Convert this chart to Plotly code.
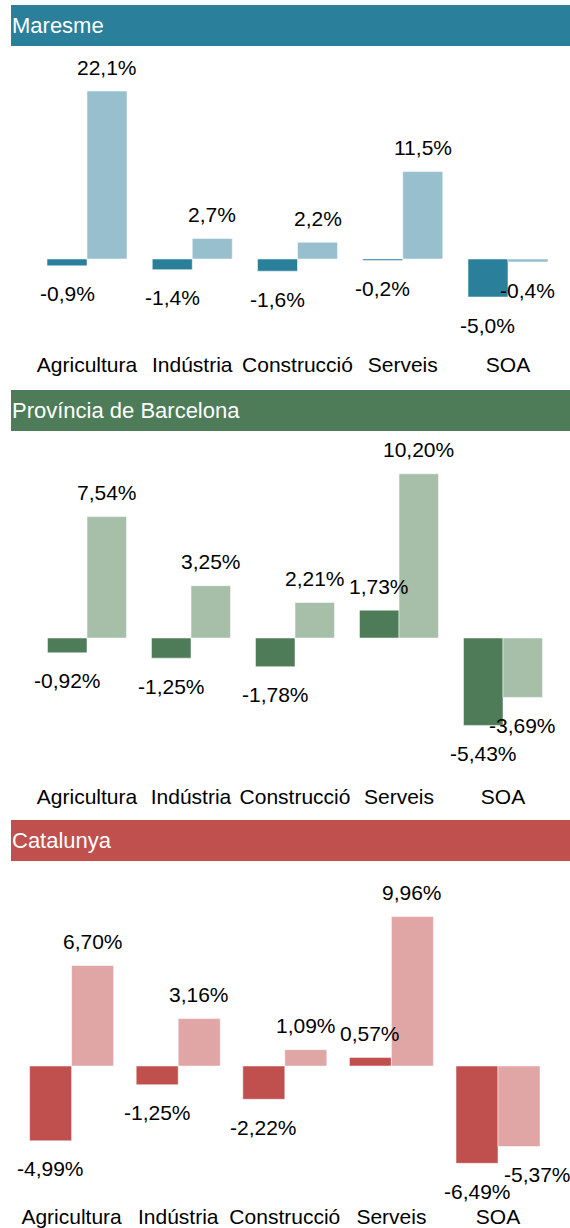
import plotly.graph_objects as go

categories = ["Agricultura", "Indústria", "Construcció", "Serveis", "SOA"]

panel_titles = ["Maresme", "Província de Barcelona", "Catalunya"]

maresme_a = [-0.9, -1.4, -1.6, -0.2, -5.0]
maresme_b = [22.1, 2.7, 2.2, 11.5, -0.4]

barcelona_a = [-0.92, -1.25, -1.78, 1.73, -5.43]
barcelona_b = [7.54, 3.25, 2.21, 10.20, -3.69]

catalunya_a = [-4.99, -1.25, -2.22, 0.57, -6.49]
catalunya_b = [6.70, 3.16, 1.09, 9.96, -5.37]

decimals = [1, 2, 2]

W, H = 570, 1228
FONT = "Liberation Sans Narrow, Arial Narrow, Liberation Sans, Arial, sans-serif"

panels = [
    dict(a=maresme_a, b=maresme_b, dark="#2A7F9A", light="#97BFCE",
         bar=(5, 46), zero=259, ppu=7.6, top=60, bottom=350,
         xl=34.4, xr=560.6, w=0.38),
    dict(a=barcelona_a, b=barcelona_b, dark="#4E7C58", light="#A7BFA9",
         bar=(390, 431), zero=638, ppu=16.1, top=440, bottom=782,
         xl=35.0, xr=555.0, w=0.38),
    dict(a=catalunya_a, b=catalunya_b, dark="#C0504E", light="#E0A5A5",
         bar=(820, 861), zero=1066, ppu=15.0, top=870, bottom=1202,
         xl=18.3, xr=551.3, w=0.394),
]


def fmt(v, d):
    return f"{v:.{d}f}".replace(".", ",") + "%"


fig = go.Figure()
shapes = []
annotations = []

for i, p in enumerate(panels):
    xa = "x" if i == 0 else f"x{i+1}"
    ya = "y" if i == 0 else f"y{i+1}"
    w = p["w"]
    fig.add_trace(go.Bar(
        x=categories, y=p["a"], xaxis=xa, yaxis=ya,
        marker=dict(color=p["dark"], line=dict(color="rgba(255,255,255,0.5)", width=1)),
        width=w, offset=-w, showlegend=False, hoverinfo="skip"))
    fig.add_trace(go.Bar(
        x=categories, y=p["b"], xaxis=xa, yaxis=ya,
        marker=dict(color=p["light"], line=dict(color="rgba(255,255,255,0.5)", width=1)),
        width=w, offset=0, showlegend=False, hoverinfo="skip"))

    rtop = (p["zero"] - p["top"]) / p["ppu"]
    rbot = -(p["bottom"] - p["zero"]) / p["ppu"]
    xdom = [p["xl"] / W, p["xr"] / W]
    ydom = [1 - p["bottom"] / H, 1 - p["top"] / H]
    sfx = "" if i == 0 else str(i + 1)
    fig.update_layout(**{
        f"xaxis{sfx}": dict(domain=xdom, range=[-0.5, 4.5], anchor=ya,
                            showgrid=False, zeroline=False, showline=False,
                            ticks="", tickfont=dict(family=FONT, size=21, color="#000000"),
                            fixedrange=True),
        f"yaxis{sfx}": dict(domain=ydom, range=[rbot, rtop], anchor=xa,
                            showgrid=False, zeroline=False, showline=False,
                            showticklabels=False, fixedrange=True),
    })

    # title bar
    shapes.append(dict(type="rect", xref="paper", yref="paper",
                       x0=11 / W, x1=1, y0=1 - p["bar"][1] / H, y1=1 - p["bar"][0] / H,
                       fillcolor=p["dark"], line=dict(width=0), layer="below"))
    annotations.append(dict(text=panel_titles[i], xref="paper", yref="paper",
                            x=10 / W, y=1 - (p["bar"][0] + p["bar"][1]) / 2 / H,
                            xanchor="left", yanchor="middle", showarrow=False,
                            font=dict(family=FONT, size=22, color="#FFFFFF")))

    d = decimals[i]
    for j, c in enumerate(categories):
        for vals, xs in ((p["a"], -w / 2), (p["b"], w / 2)):
            v = vals[j]
            xshift = 0
            if i == 2 and j == 4 and vals is p["b"]:
                xshift = 18
            annotations.append(dict(
                text=fmt(v, d), x=j + xs, y=v, xref=xa, yref=ya,
                xanchor="center", yanchor="middle", showarrow=False,
                yshift=24 if v >= 0 else -28, xshift=xshift,
                font=dict(family=FONT, size=21, color="#000000")))

fig.update_layout(
    width=W, height=H, margin=dict(l=0, r=0, t=0, b=0),
    paper_bgcolor="#FFFFFF", plot_bgcolor="rgba(0,0,0,0)",
    barmode="group", shapes=shapes, annotations=annotations,
    font=dict(family=FONT), hovermode=False,
)

fig.write_html("out.html", config={"displayModeBar": False, "staticPlot": True},
               post_script="document.body.style.margin='0';document.body.style.overflow='hidden';")
